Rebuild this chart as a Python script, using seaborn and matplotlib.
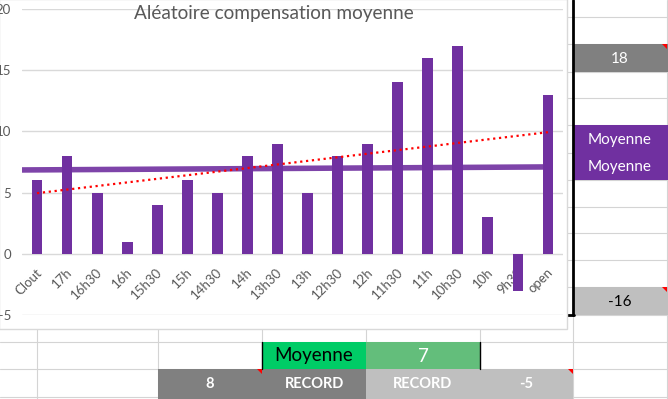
import numpy as np
import matplotlib
matplotlib.use('Agg')
import matplotlib.pyplot as plt
import matplotlib.transforms as mtransforms
from matplotlib.patches import Rectangle, Polygon
import seaborn as sns

# Données du graphique
categories = ['Clout', '17h', '16h30', '16h', '15h30', '15h', '14h30', '14h', '13h30',
              '13h', '12h30', '12h', '11h30', '11h', '10h30', '10h', '9h30', 'open']
valeurs = [6, 8, 5, 1, 4, 6, 5, 8, 9, 5, 8, 9, 14, 16, 17, 3, -3, 13]
moyenne_ligne = [6.85, 7.1]   # ligne épaisse "Moyenne" (début, fin)
y_ticks = [-5, 0, 5, 10, 15, 20]
titre = 'Aléatoire compensation moyenne'

# Cellules de la feuille autour du graphique
textes_droite = ['18', 'Moyenne', 'Moyenne', '-16']
textes_bas = ['Moyenne', '7']
textes_record = ['8', 'RECORD', 'RECORD', '-5']

sns.set_theme(style='white')
plt.rcParams['font.family'] = ['Lato', 'DejaVu Sans']

VIOLET = '#7030a0'
GRIS_TXT = '#595959'
GRILLE = '#d4d4d4'

fig = plt.figure(figsize=(6.68, 3.99), dpi=100)

# --- fond : la feuille Excel (coordonnées en pixels) ---
bg = fig.add_axes([0, 0, 1, 1])
bg.set_xlim(0, 668)
bg.set_ylim(399, 0)
bg.axis('off')

lignes = [17, 44, 72, 98, 125, 153, 180, 207, 233, 260, 287, 315, 342, 369, 397]
colonnes = [37, 158, 262, 366, 480, 573, 667]
for y in lignes:
    bg.plot([0, 668], [y, y], color=GRILLE, lw=0.8, zorder=1)
for x in colonnes:
    bg.plot([x, x], [0, 399], color=GRILLE, lw=0.8, zorder=1)

# colonne de droite
cell_d = [(44, 28, '#808080', 'white'), (125, 28, VIOLET, 'white'),
          (153, 27, VIOLET, 'white'), (287, 28, '#bfbfbf', 'black')]
for (y, h, fc, tc), txt in zip(cell_d, textes_droite):
    bg.add_patch(Rectangle((573, y), 95, h, fc=fc, ec='none', zorder=2))
    bg.text(620, y + h / 2 + 1, txt, ha='center', va='center', fontsize=11, color=tc, zorder=3)

# ligne "Moyenne / 7"
cell_b = [(262, 104, '#00cc66', 'black'), (366, 114, '#63be7b', 'white')]
for (x, w, fc, tc), txt in zip(cell_b, textes_bas):
    bg.add_patch(Rectangle((x, 342), w, 27, fc=fc, ec='none', zorder=2))
    bg.text(x + w / 2, 356, txt, ha='center', va='center', fontsize=13.5, color=tc, zorder=3)
bg.plot([262, 262], [342, 369], color='black', lw=1, zorder=3)
bg.plot([480, 480], [342, 369], color='black', lw=1, zorder=3)

# ligne RECORD
cell_r = [(158, 104, '#808080'), (262, 104, '#808080'), (366, 114, '#bfbfbf'), (480, 93, '#bfbfbf')]
for (x, w, fc), txt in zip(cell_r, textes_record):
    bg.add_patch(Rectangle((x, 369), w, 30, fc=fc, ec='none', zorder=2))
    bg.text(x + w / 2, 384, txt, ha='center', va='center', fontsize=10.5,
            fontweight='bold', color='white', zorder=3)

# petits triangles rouges (commentaires)
for x, y in [(667, 44), (667, 287), (262, 369), (573, 369)]:
    bg.add_patch(Polygon([(x - 5, y), (x, y), (x, y + 5)], fc='red', ec='none', zorder=4))

# bordure noire
bg.plot([573, 573], [0, 315], color='black', lw=2, zorder=4)
bg.plot([560, 574], [315, 315], color='black', lw=2, zorder=4)

# zone du graphique
bg.add_patch(Rectangle((-1, -1), 568, 330, fc='white', ec='#d9d9d9', lw=1, zorder=5))

fig.text(274 / 668, 1 - 18.5 / 399, titre, ha='center', va='baseline',
         fontsize=13.7, color=GRIS_TXT)

# --- graphique ---
ax = fig.add_axes([22 / 668, 1 - 315 / 399, 541 / 668, 306 / 399])
ax.patch.set_alpha(0)

sns.barplot(x=categories, y=valeurs, color=VIOLET, saturation=1, width=0.36,
            linewidth=0, ax=ax, zorder=3)

pos = np.arange(len(valeurs))
sns.regplot(x=pos, y=valeurs, scatter=False, ci=None, ax=ax,
            line_kws=dict(color='red', ls=':', lw=1.6, zorder=5))

ax.plot([-0.5, len(valeurs) - 0.85], moyenne_ligne, color=VIOLET, lw=4, alpha=0.9,
        solid_capstyle='butt', zorder=4)

ax.set_xlim(-0.5, len(valeurs) - 0.5)
ax.set_ylim(-5, 20)
ax.set_yticks(y_ticks)
ax.set_xticks(pos)
ax.set_xticklabels(categories)
ax.set_xlabel('')
ax.set_ylabel('')
ax.set_axisbelow(True)
ax.yaxis.grid(True, color='#d9d9d9', lw=1)
ax.xaxis.grid(False)
for s in ax.spines.values():
    s.set_visible(False)
ax.spines['bottom'].set_position(('data', 0))
ax.tick_params(axis='both', length=0, labelsize=9.5, labelcolor=GRIS_TXT)
ax.tick_params(axis='y', pad=8)
ax.tick_params(axis='x', pad=12)
decalage = mtransforms.ScaledTranslation(3 / 100, 0, fig.dpi_scale_trans)
for lab in ax.get_xticklabels():
    lab.set_rotation(45)
    lab.set_ha('right')
    lab.set_va('center')
    lab.set_rotation_mode('anchor')
    lab.set_transform(lab.get_transform() + decalage)

fig.savefig('out.png', dpi=100)
